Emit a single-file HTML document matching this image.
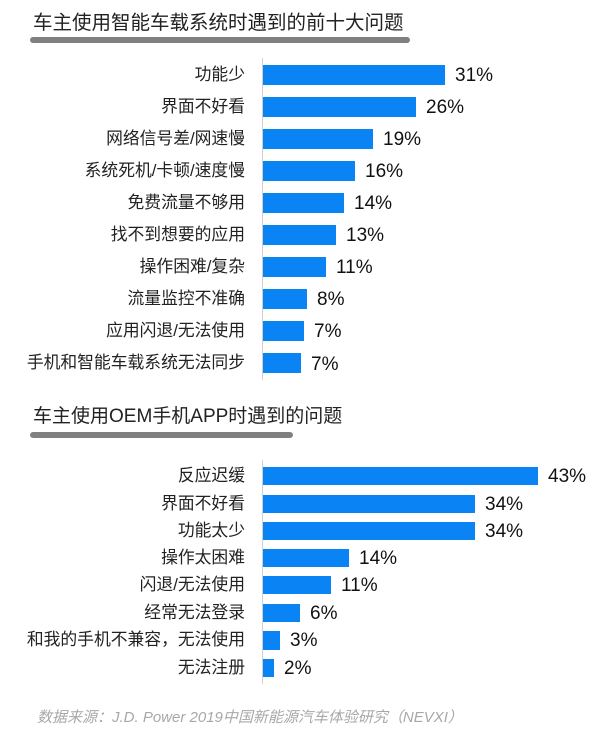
<!DOCTYPE html>
<html><head><meta charset="utf-8"><style>
html,body{margin:0;padding:0;background:#fff;}
body{width:600px;height:734px;position:relative;overflow:hidden;font-family:"Liberation Sans","Noto Sans CJK SC",sans-serif;}
.t{position:absolute;color:#222;white-space:nowrap;}
.title{font-size:19.5px;left:33px;}
.rule{position:absolute;height:6px;border-radius:3px;background:#808080;left:30px;}
.lab{position:absolute;right:355px;font-size:16.8px;color:#222;white-space:nowrap;line-height:20px;}
.bar{position:absolute;left:263px;background:#0a84f5;}
.val{position:absolute;font-size:19px;color:#111;line-height:20px;}
.axis{position:absolute;left:262px;width:1px;background:#d0d0d0;}
.foot{position:absolute;left:37px;top:706px;font-size:15px;color:#a8a8a8;font-style:italic;white-space:nowrap;}
</style></head><body>
<div class="t title" style="top:6px;">车主使用智能车载系统时遇到的前十大问题</div>
<div class="rule" style="top:37px;width:380px;"></div>
<div class="axis" style="top:58px;height:322px;"></div>

<div class="lab" style="top:65px">功能少</div><div class="bar" style="top:65px;height:20px;width:182px"></div><div class="val" style="top:66px;left:455px">31%</div>
<div class="lab" style="top:97px">界面不好看</div><div class="bar" style="top:97px;height:20px;width:153px"></div><div class="val" style="top:98px;left:426px">26%</div>
<div class="lab" style="top:129px">网络信号差/网速慢</div><div class="bar" style="top:129px;height:20px;width:110px"></div><div class="val" style="top:130px;left:383px">19%</div>
<div class="lab" style="top:161px">系统死机/卡顿/速度慢</div><div class="bar" style="top:161px;height:20px;width:92px"></div><div class="val" style="top:162px;left:365px">16%</div>
<div class="lab" style="top:193px">免费流量不够用</div><div class="bar" style="top:193px;height:20px;width:81px"></div><div class="val" style="top:194px;left:354px">14%</div>
<div class="lab" style="top:225px">找不到想要的应用</div><div class="bar" style="top:225px;height:20px;width:73px"></div><div class="val" style="top:226px;left:346px">13%</div>
<div class="lab" style="top:257px">操作困难/复杂</div><div class="bar" style="top:257px;height:20px;width:63px"></div><div class="val" style="top:258px;left:336px">11%</div>
<div class="lab" style="top:289px">流量监控不准确</div><div class="bar" style="top:289px;height:20px;width:44px"></div><div class="val" style="top:290px;left:317px">8%</div>
<div class="lab" style="top:321px">应用闪退/无法使用</div><div class="bar" style="top:321px;height:20px;width:41px"></div><div class="val" style="top:322px;left:314px">7%</div>
<div class="lab" style="top:353px">手机和智能车载系统无法同步</div><div class="bar" style="top:353px;height:20px;width:38px"></div><div class="val" style="top:355px;left:311px">7%</div>

<div class="t title" style="top:401px;font-size:19px;">车主使用OEM手机APP时遇到的问题</div>
<div class="rule" style="top:432px;width:263px;"></div>
<div class="axis" style="top:460px;height:224px;"></div>

<div class="lab" style="top:466px">反应迟缓</div><div class="bar" style="top:467px;height:18px;width:275px"></div><div class="val" style="top:467px;left:548px">43%</div>
<div class="lab" style="top:494px">界面不好看</div><div class="bar" style="top:495px;height:18px;width:212px"></div><div class="val" style="top:495px;left:485px">34%</div>
<div class="lab" style="top:521px">功能太少</div><div class="bar" style="top:522px;height:18px;width:212px"></div><div class="val" style="top:522px;left:485px">34%</div>
<div class="lab" style="top:548px">操作太困难</div><div class="bar" style="top:549px;height:18px;width:86px"></div><div class="val" style="top:549px;left:359px">14%</div>
<div class="lab" style="top:575px">闪退/无法使用</div><div class="bar" style="top:576px;height:18px;width:68px"></div><div class="val" style="top:576px;left:341px">11%</div>
<div class="lab" style="top:603px">经常无法登录</div><div class="bar" style="top:604px;height:18px;width:37px"></div><div class="val" style="top:604px;left:310px">6%</div>
<div class="lab" style="top:630px">和我的手机不兼容，无法使用</div><div class="bar" style="top:631px;height:19px;width:17px"></div><div class="val" style="top:631px;left:290px">3%</div>
<div class="lab" style="top:658px">无法注册</div><div class="bar" style="top:659px;height:18px;width:11px"></div><div class="val" style="top:659px;left:284px">2%</div>

<div class="foot">数据来源：J.D. Power 2019中国新能源汽车体验研究（NEVXI）</div>
</body></html>
